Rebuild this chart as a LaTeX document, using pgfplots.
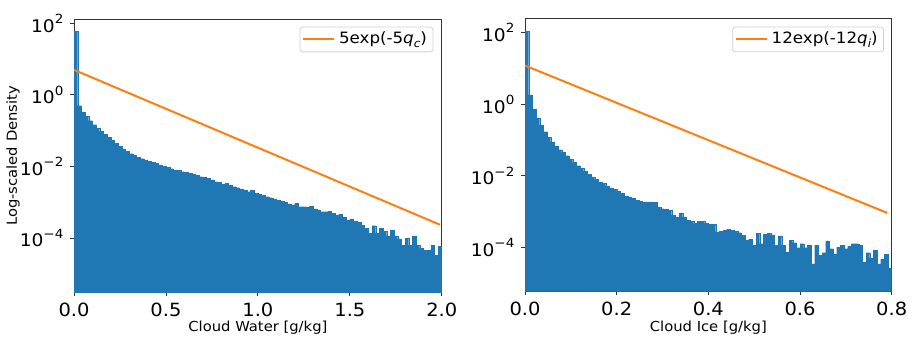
\documentclass[border=0pt]{standalone}
\usepackage{fontspec}
\setmainfont{DejaVu Sans}[FakeStretch=1.07]
\usepackage{pgfplots}
\pgfplotsset{compat=1.18}
\definecolor{mplblue}{HTML}{1F77B4}
\definecolor{mplorange}{HTML}{FF7F0E}

\newcommand{\tp}[1]{10\raisebox{0.9ex}{\fontsize{6.3}{6.3}\selectfont #1}}
\newcommand{\sub}[1]{\raisebox{-0.4ex}{\fontsize{5.6}{5.6}\selectfont\textit{#1}}}

\begin{document}
\begin{tikzpicture}
\useasboundingbox (-37pt,-29.35pt) rectangle (420pt,146.15pt);

% left: cloud water
\begin{axis}[
  scale only axis, width=183.9pt, height=136.5pt,
  ymode=log, log origin y=infty, yminorticks=false,
  axis line style={black!80, line width=0.45pt},
  tick style={black!80, line width=0.45pt},
  tick align=outside, major tick length=1.8pt,
  xtick pos=left, ytick pos=left,
  ytick={1e-4,1e-2,1,1e2},
  yticklabels={\tp{−4},\tp{−2},\tp{0},\tp{2}},
  xticklabel style={font=\fontsize{9.1}{10}\selectfont},
  yticklabel style={font=\fontsize{8.7}{10}\selectfont},
  label style={font=\fontsize{6.9}{8}\selectfont},
  xlabel style={at={(rel axis cs:0.5,0)}, anchor=center, yshift=-17.8pt},
  legend style={font=\fontsize{7.8}{9}\selectfont, anchor=north east,
    draw=black!18, rounded corners=1.5pt, fill=white,
    inner xsep=1pt, inner ysep=0.5pt, at={(0.977,0.973)}},
  legend cell align=left,
  legend image code/.code={\draw[#1] (0pt,0pt) -- (15.5pt,0pt);},
  xmin=0, xmax=2.0, ymin=3.1e-6, ymax=129,
  xtick={0,0.5,1,1.5,2}, xticklabels={0.0,0.5,1.0,1.5,2.0},
  xlabel={Cloud Water [g/kg]},
  ylabel={Log-scaled Density},
  ylabel style={at={(rel axis cs:0,0.5)}, anchor=center, yshift=30.5pt},
]
\addplot[ybar interval, fill=mplblue, draw=mplblue, line width=0.1pt, forget plot] table {
x y
0.00 58.9
0.02 0.501
0.04 0.331
0.06 0.251
0.08 0.191
0.10 0.148
0.12 0.117
0.14 0.0955
0.16 0.0794
0.18 0.0661
0.20 0.0550
0.22 0.0447
0.24 0.0372
0.26 0.0309
0.28 0.0269
0.30 0.0229
0.32 0.0204
0.34 0.0182
0.36 0.0166
0.38 0.0155
0.40 0.0141
0.42 0.0132
0.44 0.0123
0.46 0.0112
0.48 0.0102
0.50 0.00955
0.52 0.00871
0.54 0.00813
0.56 0.00776
0.58 0.00724
0.60 0.00692
0.62 0.00646
0.64 0.00617
0.66 0.00575
0.68 0.00525
0.70 0.00501
0.72 0.00468
0.74 0.00427
0.76 0.00380
0.78 0.00363
0.80 0.00324
0.82 0.00339
0.84 0.00295
0.86 0.00275
0.88 0.00257
0.90 0.00240
0.92 0.00224
0.94 0.00200
0.96 0.00214
0.98 0.00182
1.00 0.00170
1.02 0.00155
1.04 0.00145
1.06 0.00135
1.08 0.00126
1.10 0.00117
1.12 0.00110
1.14 0.00100
1.16 8.91e-4
1.18 8.51e-4
1.20 9.33e-4
1.22 7.59e-4
1.24 7.59e-4
1.26 7.24e-4
1.28 7.76e-4
1.30 6.61e-4
1.32 6.17e-4
1.34 5.50e-4
1.36 5.50e-4
1.38 5.75e-4
1.40 5.01e-4
1.42 4.47e-4
1.44 4.68e-4
1.46 3.80e-4
1.48 3.24e-4
1.50 3.47e-4
1.52 2.95e-4
1.54 2.82e-4
1.56 2.34e-4
1.58 1.91e-4
1.60 1.38e-4
1.62 2.24e-4
1.64 1.38e-4
1.66 1.91e-4
1.68 1.55e-4
1.70 1.17e-4
1.72 1.70e-4
1.74 1.12e-4
1.76 9.55e-5
1.78 6.46e-5
1.80 1.00e-4
1.82 6.46e-5
1.84 1.12e-4
1.86 6.46e-5
1.88 5.25e-5
1.90 4.68e-5
1.92 4.68e-5
1.94 6.31e-5
1.96 3.39e-5
1.98 5.89e-5
2.00 5.89e-5
};
\addplot[mplorange, line width=1pt] coordinates {(0,5) (1.99,2.38e-4)};
\addlegendentry{5exp(-5\textit{q}\sub{c})}
\end{axis}

% right: cloud ice
\begin{axis}[
  at={(225.5pt,0.3pt)},
  scale only axis, width=183.35pt, height=136.5pt,
  ymode=log, log origin y=infty, yminorticks=false,
  axis line style={black!80, line width=0.45pt},
  tick style={black!80, line width=0.45pt},
  tick align=outside, major tick length=1.8pt,
  xtick pos=left, ytick pos=left,
  ytick={1e-4,1e-2,1,1e2},
  yticklabels={\tp{−4},\tp{−2},\tp{0},\tp{2}},
  xticklabel style={font=\fontsize{9.1}{10}\selectfont},
  yticklabel style={font=\fontsize{8.7}{10}\selectfont},
  label style={font=\fontsize{6.9}{8}\selectfont},
  xlabel style={at={(rel axis cs:0.5,0)}, anchor=center, yshift=-17.8pt},
  legend style={font=\fontsize{7.8}{9}\selectfont, anchor=north east,
    draw=black!18, rounded corners=1.5pt, fill=white,
    inner xsep=1pt, inner ysep=0.5pt, at={(0.979,0.971)}},
  legend cell align=left,
  legend image code/.code={\draw[#1] (0pt,0pt) -- (15.5pt,0pt);},
  xmin=0, xmax=0.8, ymin=5.75e-6, ymax=245,
  xtick={0,0.2,0.4,0.6,0.8}, xticklabels={0.0,0.2,0.4,0.6,0.8},
  xlabel={Cloud Ice [g/kg]},
]
\addplot[ybar interval, fill=mplblue, draw=mplblue, line width=0.1pt, forget plot] table {
x y
0.000 112
0.008 1.82
0.016 0.741
0.024 0.407
0.032 0.263
0.040 0.170
0.048 0.120
0.056 0.0891
0.064 0.0676
0.072 0.0537
0.080 0.0447
0.088 0.0363
0.096 0.0295
0.104 0.0234
0.112 0.0191
0.120 0.0162
0.128 0.0135
0.136 0.0110
0.144 0.00933
0.152 0.00794
0.160 0.00676
0.168 0.00617
0.176 0.00525
0.184 0.00457
0.192 0.00417
0.200 0.00380
0.208 0.00324
0.216 0.00275
0.224 0.00257
0.232 0.00240
0.240 0.00209
0.248 0.00195
0.256 0.00186
0.264 0.00186
0.272 0.00186
0.280 0.00178
0.288 0.00135
0.296 0.00120
0.304 0.00117
0.312 0.00110
0.320 7.94e-4
0.328 7.08e-4
0.336 8.91e-4
0.344 7.08e-4
0.352 5.75e-4
0.360 5.37e-4
0.368 4.68e-4
0.376 5.37e-4
0.384 5.37e-4
0.392 4.68e-4
0.400 4.37e-4
0.408 4.37e-4
0.416 2.69e-4
0.424 2.82e-4
0.432 3.02e-4
0.440 3.24e-4
0.448 3.02e-4
0.456 2.82e-4
0.464 2.57e-4
0.472 2.19e-4
0.480 1.58e-4
0.488 1.70e-4
0.496 1.15e-4
0.504 2.45e-4
0.512 1.26e-4
0.520 2.29e-4
0.528 2.45e-4
0.536 2.24e-4
0.544 1.15e-4
0.552 2.09e-4
0.560 1.15e-4
0.568 7.41e-5
0.576 1.58e-4
0.584 1.35e-4
0.592 9.77e-5
0.600 1.26e-4
0.608 9.77e-5
0.616 1.15e-4
0.624 3.47e-5
0.632 1.15e-4
0.640 6.03e-5
0.648 7.08e-5
0.656 1.51e-4
0.664 9.12e-5
0.672 6.31e-5
0.680 1.02e-4
0.688 1.15e-4
0.696 9.12e-5
0.704 1.07e-4
0.712 1.26e-4
0.720 1.26e-4
0.728 1.15e-4
0.736 3.89e-5
0.744 7.08e-5
0.752 5.01e-5
0.760 8.32e-5
0.768 3.47e-5
0.776 4.79e-5
0.784 6.31e-5
0.792 2.57e-5
0.800 2.57e-5
};
\addplot[mplorange, line width=1pt] coordinates {(0,12) (0.79,9.17e-4)};
\addlegendentry{12exp(-12\textit{q}\sub{i})}
\end{axis}
\end{tikzpicture}
\end{document}
